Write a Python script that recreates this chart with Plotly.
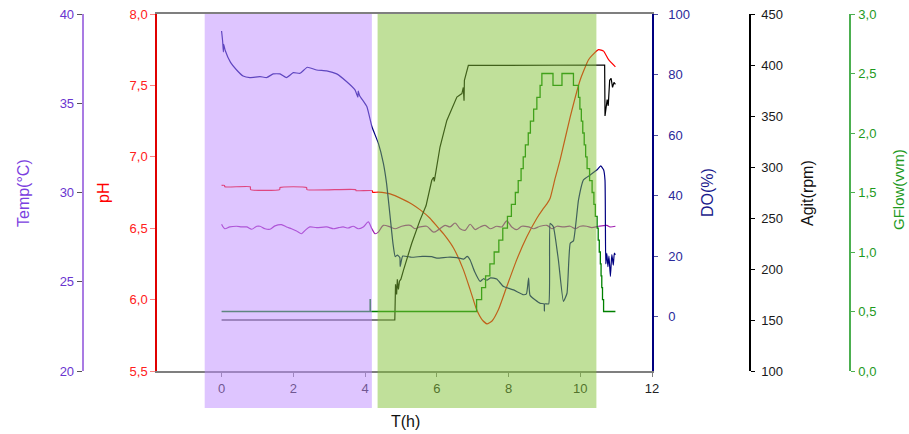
import plotly.graph_objects as go

# ---------------- data ----------------
# phase bands (h)
phase1 = (-0.47, 4.19)
phase2 = (4.35, 10.45)

# pH
ph_t = [0.00, 0.08, 0.09, 0.80, 0.81, 1.62, 1.63, 2.37, 2.38, 3.74, 3.75, 4.20, 4.21, 4.37,
        4.70, 5.07, 5.30, 5.53, 5.81, 6.05, 6.19, 6.47, 6.74, 6.93, 7.11, 7.26, 7.40, 7.54,
        7.72, 7.95, 8.23, 8.51, 8.79, 8.95, 9.07, 9.16, 9.30, 9.44, 9.72, 10.00, 10.23,
        10.33, 10.51, 10.65, 10.79, 10.98]
ph_v = [6.80, 6.80, 6.79, 6.79, 6.77, 6.77, 6.785, 6.785, 6.77, 6.77, 6.763, 6.763, 6.752, 6.752,
        6.74, 6.70, 6.67, 6.63, 6.57, 6.50, 6.46, 6.36, 6.21, 6.07, 5.93, 5.86, 5.83, 5.85,
        5.93, 6.09, 6.28, 6.44, 6.57, 6.63, 6.67, 6.71, 6.85, 6.98, 7.28, 7.54, 7.68,
        7.71, 7.75, 7.74, 7.68, 7.63]

# Temperature
temp_t = [0.00, 0.09, 0.23, 0.42, 0.56, 0.70, 0.84, 0.98, 1.07, 1.21, 1.35, 1.49, 1.67, 1.81,
          1.95, 2.09, 2.23, 2.33, 2.46, 2.65, 2.93, 3.12, 3.26, 3.39, 3.53, 3.67, 3.81, 3.95,
          4.09, 4.19, 4.28, 4.37, 4.51, 4.70, 4.84, 5.02, 5.26, 5.39, 5.53, 5.72, 5.91, 6.05,
          6.23, 6.37, 6.51, 6.65, 6.79, 6.93, 7.07, 7.21, 7.35, 7.49, 7.67, 7.81, 7.95, 8.09,
          8.23, 8.37, 8.56, 8.70, 8.88, 9.07, 9.21, 9.35, 9.53, 9.72, 9.86, 10.00, 10.18,
          10.32, 10.51, 10.74, 10.83, 10.98]
temp_v = [28.22, 27.97, 28.07, 28.11, 28.07, 28.07, 27.94, 28.11, 28.11, 27.97, 27.94, 28.13,
          28.20, 28.07, 27.97, 27.84, 27.69, 27.88, 28.07, 28.03, 28.07, 27.97, 28.03, 28.07,
          28.01, 28.11, 27.97, 28.07, 28.35, 27.97, 27.69, 27.78, 28.16, 28.07, 27.97, 28.11,
          28.16, 27.97, 28.07, 28.11, 27.78, 27.92, 28.16, 28.07, 28.29, 27.97, 27.88, 28.22,
          27.92, 28.07, 28.16, 27.97, 28.11, 28.07, 28.41, 28.07, 27.92, 28.11, 28.07, 27.97,
          28.11, 28.16, 27.97, 28.11, 28.07, 28.11, 27.97, 28.11, 28.11, 28.03, 28.11, 28.16,
          28.07, 28.11]

# Dissolved oxygen
do_t = [0.00, 0.03, 0.05, 0.06, 0.10, 0.25, 0.42, 0.60, 0.79, 1.07, 1.26, 1.44, 1.63, 1.81,
        2.00, 2.19, 2.39, 2.65, 2.93, 3.21, 3.49, 3.72, 3.80, 3.81, 3.85, 4.05, 4.19, 4.37,
        4.51, 4.60, 4.70, 4.78, 4.84, 4.90, 4.97, 4.98, 5.05, 5.30, 5.60, 5.86, 6.00, 6.30,
        6.56, 6.75, 6.85, 6.93, 7.05, 7.21, 7.30, 7.40, 7.50, 7.67, 7.86, 8.14, 8.42, 8.50,
        8.56, 8.60, 8.88, 8.99, 9.00, 9.01, 9.12, 9.16, 9.25, 9.39, 9.53, 9.63, 9.72, 9.81,
        9.95, 10.09, 10.28, 10.47, 10.57, 10.65, 10.69, 10.71, 10.74, 10.77, 10.80, 10.84,
        10.88, 10.92, 10.95, 10.98]
do_v = [94.4, 91.0, 87.5, 90.0, 88.0, 84.0, 81.5, 79.5, 79.0, 79.3, 79.0, 80.2, 80.2, 79.0,
        80.6, 80.4, 82.4, 81.5, 81.2, 80.2, 77.6, 74.9, 72.5, 74.5, 73.0, 69.4, 62.8, 57.3,
        50.7, 44.0, 33.0, 24.0, 19.8, 20.3, 19.5, 16.5, 20.0, 19.6, 19.9, 19.8, 19.3, 19.6,
        19.5, 19.0, 19.9, 18.7, 15.0, 11.6, 12.5, 12.0, 12.8, 12.4, 9.9, 8.8, 7.2, 7.5,
        12.7, 7.0, 4.4, 4.2, 1.8, 4.2, 4.2, 30.8, 29.7, 18.7, 5.0, 7.7, 24.2, 25.0,
        38.5, 45.2, 46.8, 48.5, 49.8, 48.5, 45.0, 17.4, 21.0, 16.5, 20.0, 13.3, 20.5,
        17.0, 21.0, 20.4]

# Agitation
agit_t = [0.00, 4.83, 4.85, 4.88, 4.90, 4.93, 4.96, 5.00, 5.07, 5.30, 5.53, 5.70, 5.86, 5.91,
          5.93, 6.00, 6.09, 6.28, 6.45, 6.56, 6.70, 6.74, 6.76, 6.77, 6.88, 10.66, 10.68,
          10.69, 10.72, 10.75, 10.78, 10.82, 10.86, 10.90, 10.94, 10.98]
agit_v = [150, 150, 185, 175, 190, 180, 188, 190, 198.7, 225, 247.7, 262, 287, 290,
          286, 300, 319.6, 345.7, 360, 368.5, 372, 378, 365, 385, 399.6, 400, 400,
          350, 362, 366, 360, 385, 387, 378, 383, 381]

# Gas flow (stepwise)
gf_t = [0.00, 4.13, 4.14, 4.15, 7.11, 7.25, 7.36, 7.48, 7.60, 7.73, 7.84, 7.97, 8.08, 8.19,
        8.27, 8.35, 8.41, 8.47, 8.55, 8.61, 8.70, 8.79, 8.88, 8.93, 9.24, 9.49, 9.81, 9.95,
        9.99, 10.03, 10.07, 10.11, 10.15, 10.19, 10.26, 10.33, 10.38, 10.42, 10.47, 10.50,
        10.53, 10.56, 10.58, 10.60, 10.62, 10.65, 10.98]
gf_v = [0.5, 0.5, 0.6, 0.5, 0.6, 0.7, 0.8, 0.9, 1.0, 1.1, 1.2, 1.3, 1.4, 1.5,
        1.6, 1.7, 1.8, 1.9, 2.0, 2.1, 2.2, 2.3, 2.4, 2.5, 2.4, 2.5, 2.4, 2.3,
        2.2, 2.1, 2.0, 1.9, 1.8, 1.7, 1.6, 1.5, 1.4, 1.3, 1.2, 1.1,
        1.0, 0.9, 0.8, 0.7, 0.6, 0.5, 0.5]

x_ticks = [0, 2, 4, 6, 8, 10, 12]
ph_ticks = [5.5, 6.0, 6.5, 7.0, 7.5, 8.0]
temp_ticks = [20, 25, 30, 35, 40]
do_ticks = [0, 20, 40, 60, 80, 100]
agit_ticks = [100, 150, 200, 250, 300, 350, 400, 450]
gf_ticks = [0.0, 0.5, 1.0, 1.5, 2.0, 2.5, 3.0]

# ---------------- figure ----------------
W, H = 909, 434
ML, MR, MT, MB = 0, 0, 14, 63
PX0, PX1 = 157, 652
FONT = "Arial, Liberation Sans, sans-serif"

def px(x):
    return x / W

def py(y):
    return (H - MB - y) / (H - MT - MB)

C_TEMP_T = "#6A35D0"
C_TEMP_L = "#A97BE3"
C_PH = "#FF0000"
C_DO = "#000080"
C_AG = "#000000"
C_GF = "#008000"

fig = go.Figure()
fig.add_trace(go.Scatter(x=temp_t, y=temp_v, yaxis="y2", mode="lines",
                         line=dict(color="#A020B0", width=1.2, shape="spline", smoothing=0.8)))
fig.add_trace(go.Scatter(x=gf_t, y=gf_v, yaxis="y5", mode="lines",
                         line=dict(color=C_GF, width=1.3, shape="hv")))
fig.add_trace(go.Scatter(x=agit_t, y=agit_v, yaxis="y4", mode="lines",
                         line=dict(color=C_AG, width=1.2)))
fig.add_trace(go.Scatter(x=do_t, y=do_v, yaxis="y3", mode="lines",
                         line=dict(color=C_DO, width=1.2, shape="spline", smoothing=0.4)))
fig.add_trace(go.Scatter(x=ph_t, y=ph_v, yaxis="y", mode="lines",
                         line=dict(color=C_PH, width=1.2, shape="spline", smoothing=0.5)))

tickfont = lambda c: dict(family=FONT, size=13, color=c)

fig.update_layout(
    width=W, height=H,
    margin=dict(l=ML, r=MR, t=MT, b=MB, autoexpand=False),
    paper_bgcolor="white", plot_bgcolor="white",
    showlegend=False,
    separators=",.",
    font=dict(family=FONT, size=13),
    xaxis=dict(domain=[px(PX0), px(PX1)], range=[-1.8, 12], tickvals=x_ticks,
               ticks="outside", ticklen=4, tickcolor="#808080", tickwidth=1,
               showline=True, linecolor="#7F7F7F", linewidth=2, mirror=True,
               showgrid=False, zeroline=False, tickfont=tickfont("#222222")),
    yaxis=dict(range=[5.5, 8.0], tickvals=ph_ticks, tickformat=".1f", anchor="x", side="left",
               ticks="outside", ticklen=5, tickcolor="#FF8080", showline=True, linecolor="#E00000",
               linewidth=1.5, showgrid=False, zeroline=False, tickfont=tickfont("#FF2020")),
    yaxis2=dict(range=[20, 40], tickvals=temp_ticks, overlaying="y", anchor="free",
                position=px(82.7), side="left", ticks="outside", ticklen=5, tickcolor="#555555",
                showline=True, linecolor=C_TEMP_L, linewidth=2, showgrid=False, zeroline=False,
                tickfont=tickfont(C_TEMP_T)),
    yaxis3=dict(range=[-18, 100], tickvals=do_ticks, overlaying="y", anchor="x", side="right",
                ticks="outside", ticklen=4, tickcolor="#5050A0", showline=True, linecolor=C_DO,
                linewidth=1.5, showgrid=False, zeroline=False, tickfont=tickfont("#2A2A9A"),
                ticklabelstandoff=8),
    yaxis4=dict(range=[100, 450], tickvals=agit_ticks, overlaying="y", anchor="free",
                position=px(750), side="right", ticks="outside", ticklen=4, tickcolor="#000000",
                showline=True, linecolor=C_AG, linewidth=1.5, showgrid=False, zeroline=False,
                tickfont=tickfont("#1A1A1A"), ticklabelstandoff=4),
    yaxis5=dict(range=[0, 3], tickvals=gf_ticks, tickformat=".1f", overlaying="y", anchor="free",
                position=px(850), side="right", ticks="outside", ticklen=4, tickcolor="#4CAF50",
                showline=True, linecolor="#4CAF50", linewidth=1.5, showgrid=False, zeroline=False,
                tickfont=tickfont("#1E9A1E"), ticklabelstandoff=1),
)

# phase bands drawn above traces, semi-transparent
fig.add_shape(type="rect", xref="x", yref="paper", x0=phase1[0], x1=phase1[1],
              y0=py(408), y1=1.0, fillcolor="rgba(190,140,255,0.5)", line_width=0, layer="above")
fig.add_shape(type="rect", xref="x", yref="paper", x0=phase2[0], x1=phase2[1],
              y0=py(408), y1=1.0, fillcolor="rgba(129,193,53,0.5)", line_width=0, layer="above")

def title(text, x, y, color, angle=-90, size=16):
    fig.add_annotation(text=text, xref="paper", yref="paper", x=px(x), y=py(y),
                       xanchor="center", yanchor="middle", showarrow=False, textangle=angle,
                       font=dict(family=FONT, size=size, color=color))

title("Temp(°C)", 23, 193, "#7B3FE0")
title("pH", 103, 193, "#FF0000")
title("DO(%)", 707, 193, "#1A1A8C")
title("Agit(rpm)", 807, 193, "#111111")
title("GFlow(vvm)", 898, 190, "#1E9A1E", size=15)
title("T(h)", 405, 421, "#111111", angle=0)

fig.write_html("out.html")
